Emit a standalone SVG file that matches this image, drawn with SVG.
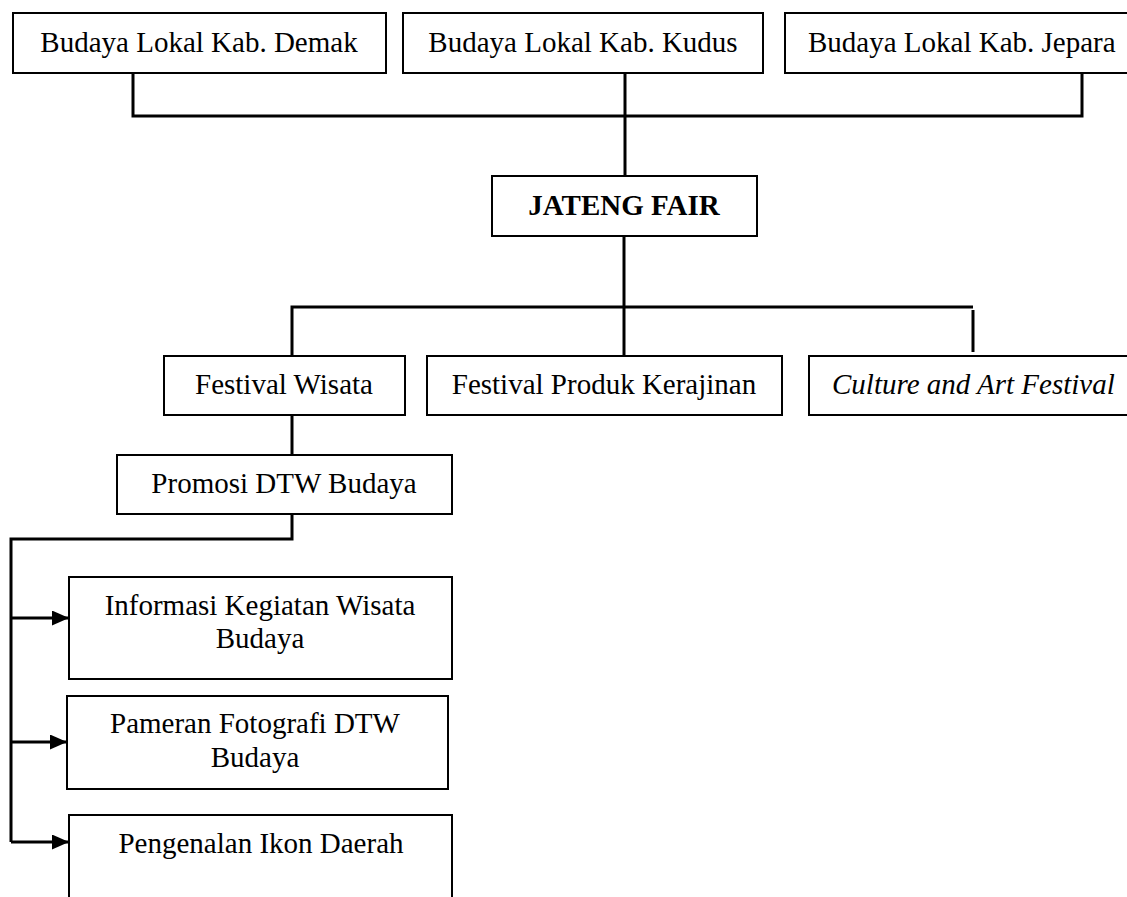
<svg xmlns="http://www.w3.org/2000/svg" width="1127" height="897" viewBox="0 0 1127 897">
<style>
.box{fill:#fff;stroke:#000;stroke-width:2}
.t{font-family:"Liberation Serif","Times New Roman",serif;font-size:29px;fill:#000;text-anchor:middle}
.b{font-weight:bold}
.i{font-style:italic;text-anchor:start}
.s{text-anchor:start}
.c{fill:none;stroke:#000;stroke-width:3}
</style>
<defs>
<marker id="ah" viewBox="0 0 17 15" refX="17" refY="7.5" markerWidth="17" markerHeight="15" markerUnits="userSpaceOnUse" orient="auto">
<path d="M0,0 L17,7.5 L0,15 Z" fill="#000"/>
</marker>
</defs>
<rect width="1127" height="897" fill="#fff"/>
<g id="connectors">
<path class="c" d="M133,73 V116 H1082 V73"/>
<path class="c" d="M625,73 V176"/>
<path class="c" d="M624,236 V355"/>
<path class="c" d="M292,355 V307 H973"/>
<path class="c" d="M973,310 V352"/>
<path class="c" d="M292,415 V455"/>
<path class="c" d="M292,514 V539 H11 V842"/>
<path class="c" d="M11,618 H69" marker-end="url(#ah)"/>
<path class="c" d="M11,742 H67" marker-end="url(#ah)"/>
<path class="c" d="M11,842 H69" marker-end="url(#ah)"/>
</g>
<g id="demak"><rect class="box" x="13" y="13" width="373" height="60"/><text class="t" x="199" y="52">Budaya Lokal Kab. Demak</text></g>
<g id="kudus"><rect class="box" x="403" y="13" width="360" height="60"/><text class="t" x="583" y="52">Budaya Lokal Kab. Kudus</text></g>
<g id="jepara"><rect class="box" x="785" y="13" width="360" height="60"/><text class="t s" x="808" y="52">Budaya Lokal Kab. Jepara</text></g>
<g id="jateng"><rect class="box" x="492" y="176" width="265" height="60"/><text class="t b" x="624" y="215">JATENG FAIR</text></g>
<g id="wisata"><rect class="box" x="164" y="356" width="241" height="59"/><text class="t" x="284" y="394">Festival Wisata</text></g>
<g id="produk"><rect class="box" x="427" y="356" width="355" height="59"/><text class="t" x="604" y="394">Festival Produk Kerajinan</text></g>
<g id="culture"><rect class="box" x="809" y="356" width="340" height="59"/><text class="t i" x="832" y="394">Culture and Art Festival</text></g>
<g id="promosi"><rect class="box" x="117" y="455" width="335" height="59"/><text class="t" x="284" y="493">Promosi DTW Budaya</text></g>
<g id="informasi"><rect class="box" x="69" y="577" width="383" height="102"/><text class="t" x="260" y="615">Informasi Kegiatan Wisata</text><text class="t" x="260" y="648">Budaya</text></g>
<g id="pameran"><rect class="box" x="67" y="696" width="381" height="93"/><text class="t" x="255" y="733">Pameran Fotografi DTW</text><text class="t" x="255" y="767">Budaya</text></g>
<g id="pengenalan"><rect class="box" x="69" y="815" width="383" height="100"/><text class="t" x="261" y="853">Pengenalan Ikon Daerah</text></g>
</svg>
